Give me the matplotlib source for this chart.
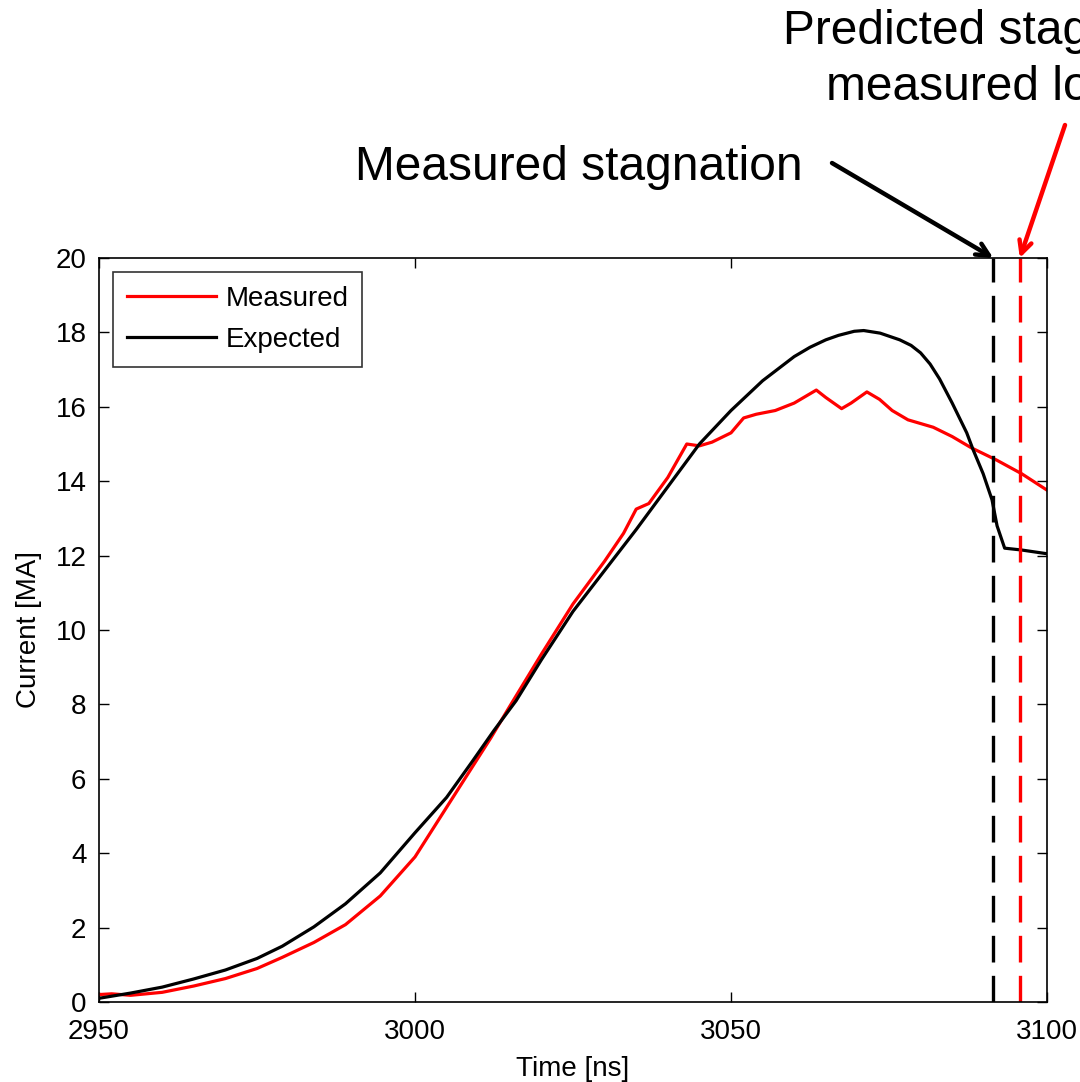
import matplotlib
matplotlib.use("Agg")
import matplotlib.pyplot as plt

# ---- data ----
t_meas = [2950, 2952, 2955, 2960, 2965, 2970, 2975, 2979, 2984, 2989, 2994.5,
          3000, 3003, 3006, 3009, 3012, 3015, 3020, 3025, 3030, 3033, 3035,
          3037, 3040, 3042, 3043, 3045, 3047, 3050, 3052, 3054, 3057, 3060, 3062,
          3063.5, 3065, 3067.5, 3069, 3071.5, 3073.5, 3075.5, 3078, 3082, 3085,
          3088, 3092, 3096, 3100]
i_meas = [0.2, 0.22, 0.18, 0.26, 0.43, 0.63, 0.9, 1.2, 1.6, 2.08, 2.85,
          3.9, 4.7, 5.5, 6.3, 7.1, 7.95, 9.35, 10.7, 11.85, 12.6, 13.25,
          13.4, 14.1, 14.7, 15.0, 14.95, 15.05, 15.3, 15.7, 15.8, 15.9, 16.1, 16.3,
          16.45, 16.25, 15.95, 16.1, 16.4, 16.2, 15.9, 15.65, 15.45, 15.2,
          14.9, 14.57, 14.2, 13.76]

t_exp = [2950, 2955, 2960, 2965, 2970, 2975, 2979, 2984, 2989, 2994.5, 3000,
         3005, 3009, 3012.5, 3016, 3020, 3025, 3030, 3035, 3040, 3045, 3050,
         3055, 3060, 3062.5, 3065, 3067, 3069.5, 3071, 3073.6, 3076.7, 3078.5,
         3080, 3081.5, 3083, 3085, 3087.3, 3088.3, 3089.9, 3091.3, 3092.1,
         3093.3, 3096, 3100]
i_exp = [0.1, 0.24, 0.4, 0.62, 0.86, 1.17, 1.5, 2.02, 2.64, 3.47, 4.55,
         5.5, 6.45, 7.3, 8.1, 9.2, 10.5, 11.6, 12.7, 13.85, 15.0, 15.9,
         16.7, 17.35, 17.6, 17.8, 17.92, 18.03, 18.05, 17.98, 17.8, 17.65,
         17.45, 17.15, 16.75, 16.1, 15.3, 14.85, 14.2, 13.5, 12.8,
         12.2, 12.15, 12.05]

t_stag_measured = 3091.5
t_stag_predicted = 3095.7

x_ticks = [2950, 3000, 3050, 3100]
y_ticks = [0, 2, 4, 6, 8, 10, 12, 14, 16, 18, 20]

plt.rcParams['font.family'] = ['Liberation Sans', 'DejaVu Sans']

fig = plt.figure(figsize=(10.8, 10.82), dpi=100)
ax = fig.add_axes([99/1080, 1 - 1002/1082, (1047-99)/1080, (1002-258)/1082])

ax.plot(t_meas, i_meas, color='#ff0000', lw=2.3, label='Measured')
ax.plot(t_exp, i_exp, color='black', lw=2.3, label='Expected')
ax.axvline(t_stag_measured, color='black', lw=2.4, dashes=(8, 4))
ax.axvline(t_stag_predicted, color='#ff0000', lw=2.4, dashes=(8, 4))

ax.set_xlim(2950, 3100)
ax.set_ylim(0, 20)
ax.set_xticks(x_ticks)
ax.set_yticks(y_ticks)
ax.tick_params(direction='in', length=7, width=1, top=True, right=True,
               labelsize=20)
ax.tick_params(axis='x', pad=12)
ax.tick_params(axis='y', pad=9)
for s in ax.spines.values():
    s.set_linewidth(1.2)
ax.set_xlabel('Time [ns]', fontsize=20, labelpad=8)
ax.set_ylabel('Current [MA]', fontsize=20, labelpad=10)

leg = ax.legend(loc='upper left', fontsize=20, frameon=True, fancybox=False,
                edgecolor='black', handlelength=3.2, handletextpad=0.35,
                borderpad=0.5, labelspacing=0.55, borderaxespad=0.5)
leg.get_frame().set_linewidth(1.2)

# annotations
fig.text(355/1080, 1 - 167/1082, 'Measured stagnation', fontsize=34.5,
         ha='left', va='center')
fig.text(783/1080, 1 - 32/1082, 'Predicted stagnation from', fontsize=34.5,
         ha='left', va='center')
fig.text(826/1080, 1 - 88/1082, 'measured load current', fontsize=34.5,
         ha='left', va='center')

ax.annotate('', xy=(t_stag_measured, 20), xycoords='data',
            xytext=(832/1080, 1 - 163/1082), textcoords='figure fraction',
            arrowprops=dict(arrowstyle='->,head_length=0.9,head_width=0.45',
                            color='black', lw=3.2, shrinkA=0, shrinkB=0),
            annotation_clip=False)
ax.annotate('', xy=(t_stag_predicted, 20), xycoords='data',
            xytext=(1065/1080, 1 - 125/1082), textcoords='figure fraction',
            arrowprops=dict(arrowstyle='->,head_length=0.9,head_width=0.45',
                            color='#ff0000', lw=3.2, shrinkA=0, shrinkB=0),
            annotation_clip=False)

fig.savefig('out.png', dpi=100)
